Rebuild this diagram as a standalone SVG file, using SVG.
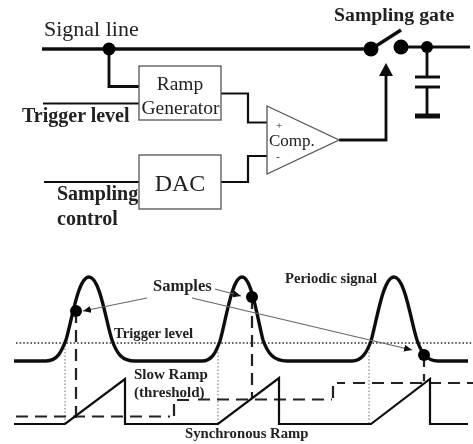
<svg xmlns="http://www.w3.org/2000/svg" width="473" height="444" viewBox="0 0 473 444">
<style>
.w{fill:none;stroke:#111;stroke-linejoin:miter}
.t2{stroke-width:2.2}.t3{stroke-width:3.4}.t25{stroke-width:2.8}
.box{fill:#fff;stroke:#555;stroke-width:1.3}
.d{fill:#000}
.s{font-family:"Liberation Serif","Times New Roman",serif;fill:#222}
.b{font-weight:bold;fill:#222}
.dash{fill:none;stroke:#222;stroke-width:2.2;stroke-dasharray:12 7}
.dot{fill:none;stroke:#333;stroke-width:1.6;stroke-dasharray:1.6 2}
.vdot{fill:none;stroke:#888;stroke-width:1.2;stroke-dasharray:1.5 2}
.arr{fill:none;stroke:#666;stroke-width:1.2}
</style>
<defs>
<filter id="soft" x="-2%" y="-2%" width="104%" height="104%"><feGaussianBlur stdDeviation="0.45"/></filter>
<marker id="ah" markerWidth="9" markerHeight="7" refX="8" refY="3.500" orient="auto" markerUnits="userSpaceOnUse"><path d="M0,0L8,3.500L0,7z" fill="#111"/></marker>
</defs>
<g filter="url(#soft)">
<g id="connectors">
<path class="w t3" d="M42,49H366"/>
<path class="w t25" d="M109,49V86.500H139"/>
<path class="w t2" d="M43,103.500H139"/>
<path class="w t2" d="M44,182H139"/>
<path class="w t2" d="M221,93.500H248V122.500H267"/>
<path class="w t2" d="M221,182H248V156H267"/>
<path class="w t25" d="M339,140H386V74"/>
<path d="M379,76L386,63L393,76z" fill="#111"/>
<path class="w t3" d="M376,46L401,30"/>
<path class="w t25" d="M401,47H470"/>
<path class="w t25" d="M427,47V77M427,87V116"/>
<path class="w t25" d="M415,77H440M415,87H440"/>
<path class="w" stroke-width="5" d="M415,116H440"/>
</g>
<g id="node-junction"><circle class="d" cx="109" cy="49" r="6.500"/></g>
<g id="node-ramp"><rect class="box" x="139" y="66" width="82" height="54"/>
<text class="s" x="180" y="90" font-size="19.500" text-anchor="middle">Ramp</text>
<text class="s" x="180.500" y="114" font-size="19.500" text-anchor="middle">Generator</text></g>
<g id="node-dac"><rect class="box" x="139" y="155" width="82" height="54"/>
<text class="s" x="180" y="191" font-size="24" text-anchor="middle">DAC</text></g>
<g id="node-comp"><path class="box" d="M267,106L339,140L267,174z"/>
<text class="s" x="279" y="129" font-size="11" text-anchor="middle">+</text>
<text class="s" x="269" y="146" font-size="17">Comp.</text>
<text class="s" x="278" y="160" font-size="11" text-anchor="middle">-</text></g>
<g id="node-gate"><circle class="d" cx="371" cy="49" r="7.500"/><circle class="d" cx="401" cy="47" r="7.500"/><circle class="d" cx="427" cy="47" r="6"/>
<text class="s b" x="334" y="21" font-size="19.800">Sampling gate</text></g>
<g id="labels">
<text class="s" x="44" y="36" font-size="22">Signal line</text>
<text class="s b" x="22" y="122" font-size="20">Trigger level</text>
<text class="s b" x="57" y="200" font-size="20">Sampling</text>
<text class="s b" x="57" y="225" font-size="20">control</text>
<text class="s b" x="153" y="291" font-size="16.500">Samples</text>
<text class="s b" x="285" y="283" font-size="14.600">Periodic signal</text>
<text class="s b" x="114" y="338" font-size="14.700">Trigger level</text>
<text class="s b" x="134" y="379" font-size="15">Slow Ramp</text>
<text class="s b" x="134" y="397" font-size="15">(threshold)</text>
<text class="s b" x="185" y="438" font-size="14.700">Synchronous Ramp</text>
</g>
<g id="waveforms">
<path class="dot" d="M16,343H473"/>
<path class="vdot" d="M65,345V424M218,345V424M369,345V424"/>
<path class="dash" d="M76,311V418M252,297V399M424,355V381" stroke-dasharray="10 6"/>
<path class="dash" d="M16,416.500H170M174,416V400H190"/>
<path class="dash" d="M198,399.500H332M333,398V383H345M353,383H473"/>
<path class="w t2" d="M14,424H65L125,379V424H218L279,378V424H371L430,379V424H468"/>
<path class="w t3" d="M14,361H46C58,361 62,350 66,340C72,320 78,277 89,277C100,277 106,322 112,340C117,354 122,361 135,361H202C212,361 216,352 220,341C226,320 232,277 242,277C252,277 258,322 263,340C268,354 274,361 287,361H352C362,361 367,352 371,341C377,320 383,277 394,277C405,277 411,322 417,340C421,352 426,361 438,361H468"/>
<circle class="d" cx="76" cy="311" r="6"/><circle class="d" cx="252" cy="297" r="6"/><circle class="d" cx="424" cy="355" r="6"/>
<path class="arr" d="M147,298L83,311" marker-end="url(#ah)"/>
<path class="arr" d="M215,289L241,296" marker-end="url(#ah)"/>
<path class="arr" d="M192,298L412,350" marker-end="url(#ah)"/>
</g>
</g>
</svg>
